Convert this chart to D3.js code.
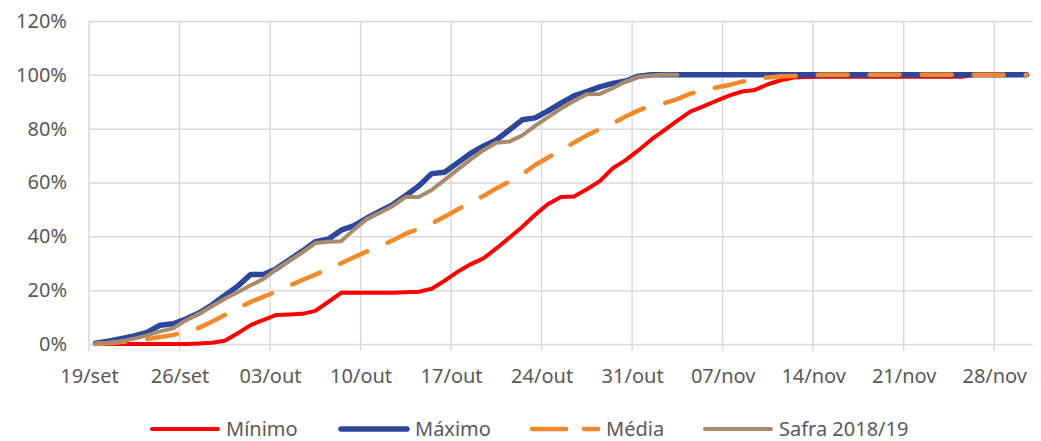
<!DOCTYPE html>
<html>
<head>
<meta charset="utf-8">
<script src="https://cdn.jsdelivr.net/npm/d3@7"></script>
<style>
  body { margin: 0; background: #fff; }
  text { font-family: "Noto Sans", sans-serif; fill: #595959; }
</style>
</head>
<body>
<svg id="chart" width="1041" height="441"></svg>
<script>
// x ticks, one per week, counted in days from 19/set
const tickLabels = ['19/set', '26/set', '03/out', '10/out', '17/out', '24/out', '31/out', '07/nov', '14/nov', '21/nov', '28/nov'];
const tickDays = [0, 7, 14, 21, 28, 35, 42, 49, 56, 63, 70];
const yTicks = [0, 20, 40, 60, 80, 100, 120];

// daily cumulative %, day 0 = 19/set ... day 72 = 30/nov
const minimo = [0, 0, 0, 0, 0, 0, 0, 0, 0.2, 0.5, 1.2, 4, 7, 9, 10.8, 11, 11.2, 12.3, 15.6, 19,
  19, 19, 19, 19, 19.2, 19.4, 20.5, 23.5, 26.8, 29.6, 31.8, 35.5, 39.5, 43.5, 48, 52, 54.6, 54.8, 57.5, 60.5,
  65.3, 68.3, 72, 76, 79.5, 83, 86.3, 88.3, 90.3, 92.3, 93.8, 94.4, 96.5, 98, 99, 99.2, 99.3, 99.3, 99.3, 99.3,
  99.3, 99.3, 99.3, 99.3, 99.3, 99.3, 99.3, 99.3, 100, 100, 100, 100, 100];
const maximo = [0.3, 1, 2, 3, 4.3, 7, 7.5, 9.3, 11.5, 14.5, 18, 21.5, 25.8, 25.8, 28, 31.3, 34.5, 38, 38.9, 42.3,
  44, 46.8, 49.3, 51.8, 55.2, 58.7, 63.3, 63.8, 67.3, 70.8, 73.5, 75.8, 79.5, 83.3, 84, 86.6, 89.5, 92.2, 93.8, 95.5,
  96.8, 97.7, 99.5, 100, 100, 100, 100, 100, 100, 100, 100, 100, 100, 100, 100, 100, 100, 100, 100, 100,
  100, 100, 100, 100, 100, 100, 100, 100, 100, 100, 100, 100, 100];
const media = [0, 0.3, 0.7, 1.2, 1.8, 2.6, 3.4, 4.4, 6, 8.3, 10.8, 13.2, 15.6, 17.6, 19.5, 21.7, 23.8, 25.8, 27.8, 30,
  32.2, 34.4, 36.4, 38.5, 41, 42.8, 44.8, 47.3, 50, 52.5, 55, 57.8, 60.3, 63, 66.5, 69.3, 72, 74.8, 77.5, 79.8,
  82, 84.5, 86.8, 88.5, 89.5, 91, 93, 94, 95.3, 96.2, 97.5, 98.3, 99, 99.5, 99.6, 99.8, 100, 100, 100, 100,
  100, 100, 100, 100, 100, 100, 100, 100, 100, 100, 100, 100, 100];
const safra = [0.2, 0.5, 1, 2, 3.2, 4.7, 5.8, 8.8, 11.2, 14, 16.8, 19.2, 21.8, 24.2, 27.8, 31, 34, 37.5, 38, 38.2,
  42.5, 46.5, 48.8, 51.3, 54.7, 54.6, 57.2, 61, 64.8, 68.5, 72, 74.8, 75.2, 77.5, 81, 84.3, 87.5, 90.3, 92.8, 92.9,
  95, 97.5, 99.3, 99.8, 100, 100];

const series = [
  {name: 'Mínimo', values: minimo, color: '#ff0000', width: 4, dash: null},
  {name: 'Máximo', values: maximo, color: '#2b469b', width: 5.5, dash: null},
  {name: 'Média', values: media, color: '#f4892b', width: 4.5, dash: '30 22'},
  {name: 'Safra 2018/19', values: safra, color: '#a88b6b', width: 4, dash: null}
];

const svg = d3.select('#chart');
const plotLeft = 89, plotRight = 1033, plotTop = 21, plotBottom = 344;

const x = d3.scaleLinear().domain([0, 73]).range([plotLeft, plotRight]);
const y = d3.scaleLinear().domain([0, 120]).range([plotBottom, plotTop]);

// horizontal grid + y labels
const yAxis = svg.append('g')
  .attr('transform', `translate(${plotLeft},0)`)
  .call(d3.axisLeft(y).tickValues(yTicks).tickSize(-(plotRight - plotLeft)).tickPadding(22).tickFormat(d => d + '%'));
yAxis.select('.domain').remove();
yAxis.selectAll('line').attr('stroke', '#d9d9d9').attr('stroke-width', 1.5);
yAxis.selectAll('text').style('font-size', '20px').attr('fill', '#595959');

// vertical grid (runs a bit below the axis like tick marks)
svg.append('g').selectAll('line')
  .data(tickDays)
  .join('line')
  .attr('x1', d => x(d)).attr('x2', d => x(d))
  .attr('y1', y(120)).attr('y2', plotBottom + 7)
  .attr('stroke', '#d9d9d9').attr('stroke-width', 1.5);

const xAxis = svg.append('g')
  .attr('transform', `translate(0,${plotBottom})`)
  .call(d3.axisBottom(x).tickValues(tickDays).tickSize(0).tickFormat((d, i) => tickLabels[i]));
xAxis.select('.domain').remove();
xAxis.selectAll('text')
  .attr('y', 39).attr('dy', 0)
  .style('font-size', '20px').attr('fill', '#595959');

// lines, points sit in the middle of each day
const line = d3.line()
  .x((d, i) => x(i + 0.5))
  .y(d => y(d));

svg.append('g').selectAll('path')
  .data(series)
  .join('path')
  .attr('d', d => line(d.values))
  .attr('fill', 'none')
  .attr('stroke', d => d.color)
  .attr('stroke-width', d => d.width)
  .attr('stroke-linejoin', 'round')
  .attr('stroke-linecap', 'round')
  .attr('stroke-dasharray', d => d.dash);

// legend
const legendX = [150, 339, 530, 703];
const legend = svg.append('g').selectAll('g')
  .data(series)
  .join('g')
  .attr('transform', (d, i) => `translate(${legendX[i]},429)`);

legend.append('line')
  .attr('x1', 2).attr('x2', 68)
  .attr('stroke', d => d.color)
  .attr('stroke-width', d => d.width)
  .attr('stroke-linecap', 'round')
  .attr('stroke-dasharray', d => d.dash ? '34 18' : null);

legend.append('text')
  .attr('x', 76)
  .attr('dy', '0.35em')
  .style('font-size', '20px')
  .text(d => d.name);
</script>
</body>
</html>
